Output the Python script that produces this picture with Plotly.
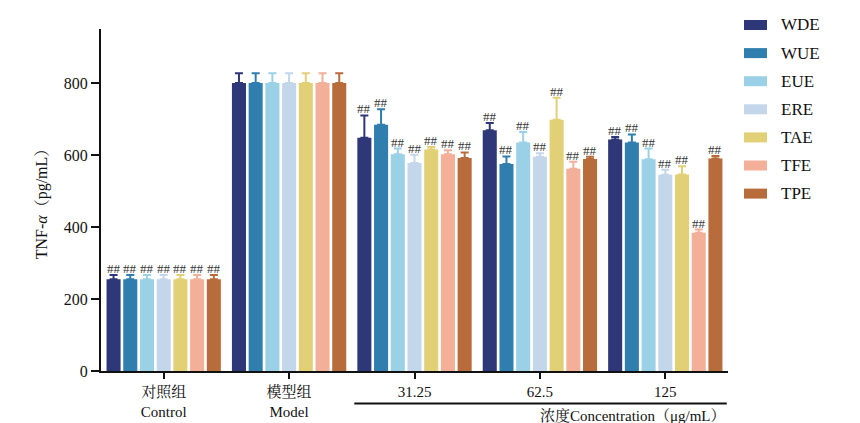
import plotly.graph_objects as go

# Groups on the x axis (Chinese / English labels)
groups = ["对照组<br>Control", "模型组<br>Model", "31.25", "62.5", "125"]
series = ["WDE", "WUE", "EUE", "ERE", "TAE", "TFE", "TPE"]
colors = ["#2e3777", "#2f7eae", "#9ad1e7", "#c3d6ea", "#e2d077", "#f3af98", "#b86c3b"]

# TNF-α means (pg/mL), one list per extract, ordered like `groups`
wde = [255, 800, 648, 669, 643]
wue = [255, 800, 684, 575, 635]
eue = [255, 800, 602, 635, 588]
ere = [255, 800, 578, 595, 545]
tae = [255, 800, 615, 698, 546]
tfe = [255, 800, 602, 562, 384]
tpe = [255, 800, 592, 589, 590]

# Standard deviations (upper error only)
wde_sd = [12, 27, 62, 20, 7]
wue_sd = [12, 27, 43, 21, 22]
eue_sd = [12, 27, 16, 29, 30]
ere_sd = [12, 27, 23, 10, 14]
tae_sd = [12, 27, 7, 61, 23]
tfe_sd = [12, 27, 11, 19, 9]
tpe_sd = [12, 27, 15, 6, 7]

# Significance marks vs model group
marks = ["##", "", "##", "##", "##"]

values = [wde, wue, eue, ere, tae, tfe, tpe]
sds = [wde_sd, wue_sd, eue_sd, ere_sd, tae_sd, tfe_sd, tpe_sd]

FONT = "Liberation Serif, 'Noto Serif CJK SC', 'Noto Sans CJK SC', serif"
INK = "#111111"
BARGAP = 0.067
BARGROUPGAP = 0.16

W, H = 860, 423
ML, MR, MT, MB = 101, 132, 29, 52
PW, PH = W - ML - MR, H - MT - MB


def px_x(px):
    return (px - ML) / PW


def px_y(py):
    return (H - MB - py) / PH


fig = go.Figure()
for i, name in enumerate(series):
    fig.add_trace(go.Bar(
        x=groups, y=values[i], name=name, showlegend=False,
        marker=dict(color=colors[i], line=dict(width=0)),
        error_y=dict(type="data", array=sds[i], arrayminus=[0] * len(groups),
                     symmetric=False, color=colors[i], thickness=2, width=4),
    ))

# "##" labels above each error bar
n = len(series)
slot = (1 - BARGAP) / n
annotations = []
for i in range(n):
    offset = -(1 - BARGAP) / 2 + slot * (i + 0.5)
    for g in range(len(groups)):
        if marks[g]:
            annotations.append(dict(
                x=g + offset, y=values[i][g] + sds[i][g], xref="x", yref="y",
                text=marks[g], showarrow=False, yanchor="bottom", yshift=-3,
                font=dict(family=FONT, size=13, color="#333333"),
            ))

shapes = []

# Legend: wide colour swatch + label per extract
for i, name in enumerate(series):
    cy = 25 + 28.1 * i
    shapes.append(dict(type="rect", xref="paper", yref="paper",
                       x0=px_x(744), x1=px_x(767), y0=px_y(cy + 5), y1=px_y(cy - 5),
                       fillcolor=colors[i], line=dict(width=0)))
    annotations.append(dict(x=px_x(779), y=px_y(cy), xref="paper", yref="paper",
                            text=name, showarrow=False, xanchor="left", yanchor="middle",
                            font=dict(family=FONT, size=17, color=INK)))

# Concentration bracket under the dose groups
annotations.append(dict(
    x=4.5, y=px_y(415), xref="x", yref="paper", text="浓度Concentration（μg/mL）",
    showarrow=False, xanchor="right", yanchor="middle",
    font=dict(family=FONT, size=15, color=INK),
))
shapes.append(dict(type="line", xref="x", yref="paper", x0=1.52, x1=4.49,
                   y0=px_y(403.5), y1=px_y(403.5), line=dict(color=INK, width=2)))

fig.update_layout(
    width=W, height=H,
    margin=dict(l=ML, r=MR, t=MT, b=MB),
    paper_bgcolor="white", plot_bgcolor="white",
    barmode="group", bargap=BARGAP, bargroupgap=BARGROUPGAP,
    font=dict(family=FONT, size=15, color=INK),
    annotations=annotations, shapes=shapes, showlegend=False,
    xaxis=dict(showline=True, linecolor=INK, linewidth=2, automargin=False,
               ticks="outside", ticklen=6, tickwidth=2, tickcolor=INK,
               range=[-0.5, 4.5], showgrid=False, zeroline=False,
               tickfont=dict(family=FONT, size=15, color=INK)),
    yaxis=dict(showline=True, linecolor=INK, linewidth=2, automargin=False,
               ticks="outside", ticklen=8, tickwidth=2, tickcolor=INK,
               range=[0, 950], tickvals=[0, 200, 400, 600, 800],
               showgrid=False, zeroline=False,
               tickfont=dict(family=FONT, size=16, color=INK),
               title=dict(text="TNF-<i>α</i>（pg/mL）", standoff=12,
                          font=dict(family=FONT, size=16, color=INK))),
)

fig.write_html("out.html")
